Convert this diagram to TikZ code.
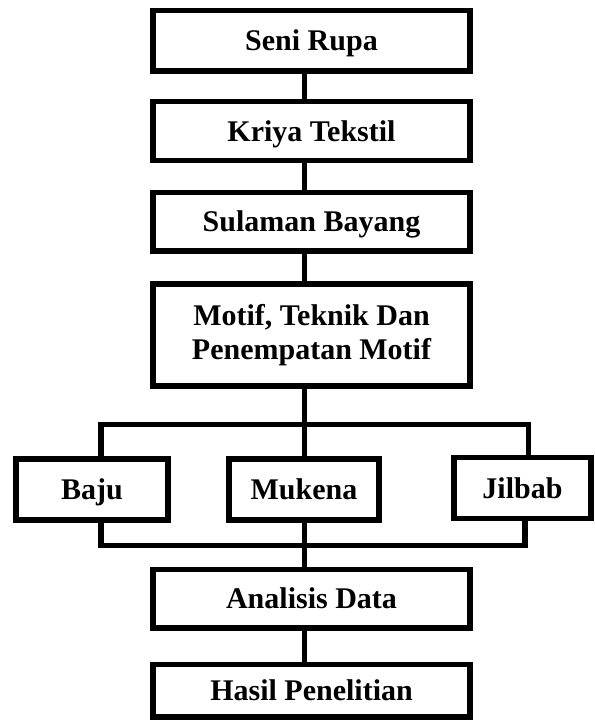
\documentclass[tikz,border=0pt]{standalone}
\usepackage{fontspec}
\setmainfont{Liberation Serif}

\begin{document}
\begin{tikzpicture}[x=1pt,y=-1pt,
	box/.style={draw,line width=5.5pt,inner sep=0pt,align=center,
		font=\fontsize{30}{34}\selectfont\bfseries},
	oneline/.style={text height=27pt,text depth=7pt},
	wire/.style={line width=5.5pt}]
	\useasboundingbox (0,0) rectangle (595,721);
	
	% main column
	\begin{scope}[nodes={box,minimum width=317pt}]
	\node[oneline,minimum height=60.5pt] (seni) at (311.5,40.75) {Seni Rupa};
	\node[oneline,minimum height=59pt] (kriya) at (311.5,131) {Kriya Tekstil};
	\node[oneline,minimum height=58.5pt] (sulaman) at (311.5,221.75) {Sulaman Bayang};
	\node[minimum height=102pt] (motif) at (311.5,335) {Motif, Teknik Dan\\Penempatan Motif};
	\node[oneline,minimum height=58.5pt] (analisis) at (311.5,598.75) {Analisis Data};
	\node[oneline,minimum height=52.5pt] (hasil) at (311.5,690.75) {Hasil Penelitian};
	\end{scope}
	
	% object boxes
	\begin{scope}[nodes={box,oneline,minimum height=61pt}]
	\node[minimum width=152pt] (baju) at (92,489.5) {Baju};
	\node[minimum width=150pt] (mukena) at (304,489.5) {Mukena};
	\node[minimum width=137pt] (jilbab) at (522.5,488) {Jilbab};
	\end{scope}
	
	% coordinates
	\coordinate (spine) at (304.5,0);
	\coordinate (topl) at (101,424.5);
	\coordinate (topr) at (528.5,424.5);
	\coordinate (botl) at (101,545.5);
	\coordinate (botr) at (525,545.5);
	
	% lines
	\draw [wire] (seni.south -| spine) -- (kriya.north -| spine);
	\draw [wire] (kriya.south -| spine) -- (sulaman.north -| spine);
	\draw [wire] (sulaman.south -| spine) -- (motif.north -| spine);
	\draw [wire] (motif.south -| spine) -- (mukena.north -| spine);
	\draw [wire] (baju.north -| topl) |- (topr) -- (jilbab.north -| topr);
	\draw [wire] (baju.south -| botl) |- (botr) -- (jilbab.south -| botr);
	\draw [wire] (mukena.south -| spine) -- (analisis.north -| spine);
	\draw [wire] (analisis.south -| spine) -- (hasil.north -| spine);
\end{tikzpicture}
\end{document}
